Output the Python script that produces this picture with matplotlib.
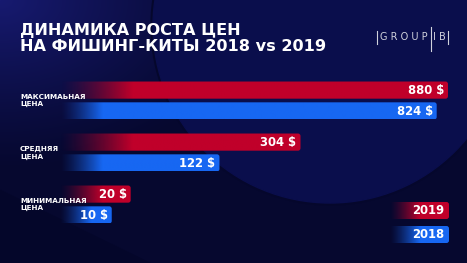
import numpy as np
import matplotlib
matplotlib.use("Agg")
import matplotlib.pyplot as plt
from matplotlib.patches import Circle, FancyBboxPatch, Polygon
from matplotlib.colors import to_rgb
from matplotlib.transforms import blended_transform_factory

W, H = 467, 263

categories = ["МАКСИМАЬНАЯ\nЦЕНА", "СРЕДНЯЯ\nЦЕНА", "МИНИМАЛЬНАЯ\nЦЕНА"]
prices_2019 = [880, 304, 20]
prices_2018 = [824, 122, 10]
years = ["2019", "2018"]
title = "ДИНАМИКА РОСТА ЦЕН\nНА ФИШИНГ-КИТЫ 2018 vs 2019"

RED = "#c0002a"
BLUE = "#1767f2"
BG = "#06082f"

plt.rcParams["font.family"] = ["DejaVu Sans"]

fig = plt.figure(figsize=(W / 100, H / 100), dpi=100, facecolor=BG)

# background layer in pixel units
bg = fig.add_axes([0, 0, 1, 1])
bg.set_xlim(0, W)
bg.set_ylim(H, 0)
bg.set_autoscale_on(False)
bg.axis("off")

yy, xx = np.mgrid[0:H, 0:W]
glow = np.clip(1 - np.hypot(xx / 260, yy / 170), 0, 1) ** 1.2
base, light = np.array(to_rgb(BG)), np.array(to_rgb("#171a70"))
bg.imshow(base + (light - base) * glow[..., None], extent=(0, W, H, 0),
          aspect="auto", zorder=0)
bg.add_patch(Circle((330, 26), 179, color="#05072c", zorder=1))
bg.add_patch(Circle((330, 26), 177, color="#0a0e4c", zorder=1))
bg.add_patch(Polygon([(0, 190), (0, H), (150, H)], color="#04062a", zorder=1))


def gradient_box(xa, xb, ya, yb, color, ramp):
    n = 300
    frac = np.linspace(0, 1, n)
    alpha = np.clip(frac * (xb - xa) / ramp, 0, 1) ** 1.3
    rgba = np.zeros((1, n, 4))
    rgba[..., :3] = to_rgb(color)
    rgba[..., 3] = alpha
    im = bg.imshow(rgba, extent=(xa, xb, yb, ya), aspect="auto", zorder=3,
                   interpolation="bilinear")
    box = FancyBboxPatch((xa, ya), xb - xa, yb - ya,
                         boxstyle="round,pad=0,rounding_size=2.5",
                         facecolor="none", edgecolor="none")
    bg.add_patch(box)
    im.set_clip_path(box)


# bar layer
x0, x1 = 60, 448
top, bottom = 74.5, 230.5
ax = fig.add_axes([x0 / W, 1 - bottom / H, (x1 - x0) / W, (bottom - top) / H])
ax.set_facecolor("none")
p = 0.45
ax.set_xscale("function", functions=(lambda v: np.power(np.clip(v, 0, None), p),
                                     lambda v: np.power(np.clip(v, 0, None), 1 / p)))
ax.set_xlim(0, max(prices_2019))
ax.set_ylim(len(categories) - 0.5, -0.5)
ax.axis("off")

y = np.arange(len(categories))
off, h = 0.2, 0.33
bars19 = ax.barh(y - off, prices_2019, height=h, color="none")
bars18 = ax.barh(y + off, prices_2018, height=h, color="none")

to_bg = ax.transData + bg.transData.inverted()
for bars, vals, color, ramp in [(bars19, prices_2019, RED, 72), (bars18, prices_2018, BLUE, 42)]:
    for bar, v in zip(bars, vals):
        (xa, ya), (xb, yb) = to_bg.transform([(0, bar.get_y()), (v, bar.get_y() + bar.get_height())])
        ya, yb = sorted((ya, yb))
        gradient_box(xa, xb, ya, yb, color, min(ramp, 0.6 * (xb - xa)))
        ax.annotate(f"{v} $", xy=(v, bar.get_y() + bar.get_height() / 2),
                    xytext=(-4, -0.5), textcoords="offset pixels", ha="right",
                    va="center", color="white", fontsize=8.4, fontweight="bold",
                    zorder=5)

lab_tr = blended_transform_factory(fig.transFigure, ax.transData)
for i, cat in enumerate(categories):
    ax.text(20 / W, i, cat, transform=lab_tr, ha="left", va="center",
            color="white", fontsize=5.2, fontweight="bold", linespacing=1.35)

# legend
for (ya, yb), yr, color in zip([(202, 219), (226, 243)], years, [RED, BLUE]):
    gradient_box(390, 449, ya, yb, color, 30)
    bg.text(444, (ya + yb) / 2 + 0.5, yr, ha="right", va="center", color="white",
            fontsize=8.4, fontweight="bold", zorder=5)

# title
fig.text(20 / W, 1 - 22.5 / H, title, ha="left", va="top", color="white",
         fontsize=11.6, fontweight="bold", linespacing=1.12)

# logo
logo = "#d0d1dc"
bg.plot([377, 377], [31, 44], color=logo, lw=0.8, zorder=5)
bg.plot([431, 431], [27, 51], color=logo, lw=0.8, zorder=5)
bg.plot([448, 448], [31, 44], color=logo, lw=0.8, zorder=5)
bg.text(404, 37.5, "G R O U P", ha="center", va="center", color=logo,
        fontsize=7, zorder=5)
bg.text(439.5, 37.5, "I B", ha="center", va="center", color=logo,
        fontsize=7, zorder=5)

fig.savefig("out.png", dpi=100, facecolor=BG)
